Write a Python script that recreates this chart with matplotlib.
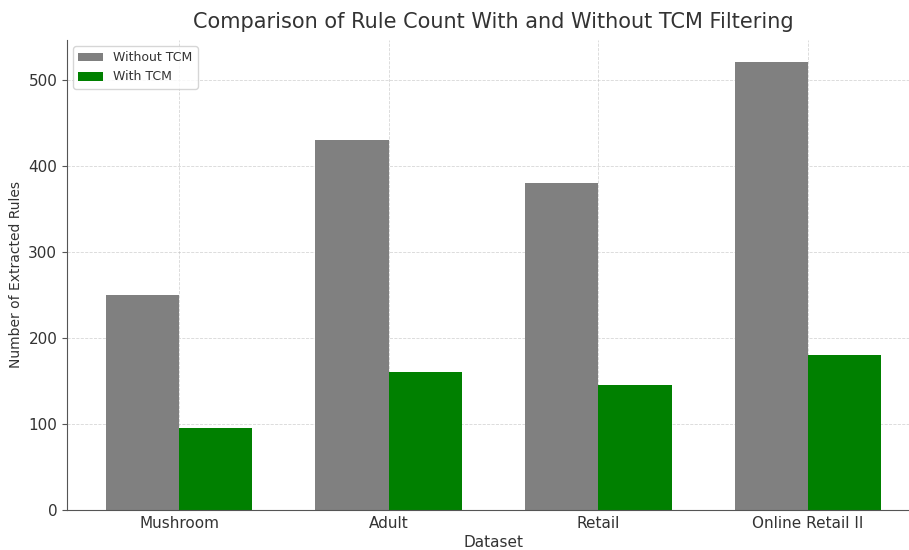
import matplotlib
matplotlib.use("Agg")
import matplotlib.pyplot as plt
import numpy as np

datasets = ["Mushroom", "Adult", "Retail", "Online Retail II"]
without_tcm = [250, 430, 380, 520]
with_tcm = [95, 160, 145, 180]

plt.rcParams["font.family"] = "DejaVu Sans"
text_color = "#333333"

fig = plt.figure(figsize=(9.09, 5.5), dpi=100)
ax = fig.add_axes([67 / 909, 40 / 550, 853 / 909, 470 / 550])

x = np.arange(len(datasets))
width = 0.35
ax.bar(x - width / 2, without_tcm, width, color="gray", label="Without TCM")
ax.bar(x + width / 2, with_tcm, width, color="green", label="With TCM")

ax.set_xticks(x)
ax.set_xticklabels(datasets, fontsize=11, color=text_color)
ax.tick_params(axis="y", labelsize=11, labelcolor=text_color, colors="#555555")
ax.tick_params(axis="x", colors="#555555", labelcolor=text_color, length=0, pad=4)
ax.set_xlabel("Dataset", fontsize=11, color=text_color, labelpad=3)
ax.set_ylabel("Number of Extracted Rules", fontsize=10, color=text_color)
ax.set_title("Comparison of Rule Count With and Without TCM Filtering",
             fontsize=15, color=text_color, pad=9)

ax.grid(True, linestyle="--", linewidth=0.6, alpha=0.5)
ax.set_axisbelow(True)
for side in ("top", "right"):
    ax.spines[side].set_visible(False)
for side in ("left", "bottom"):
    ax.spines[side].set_color("#555555")

ax.legend(loc="upper left", fontsize=9, labelcolor=text_color)

fig.savefig("out.png", dpi=100)
